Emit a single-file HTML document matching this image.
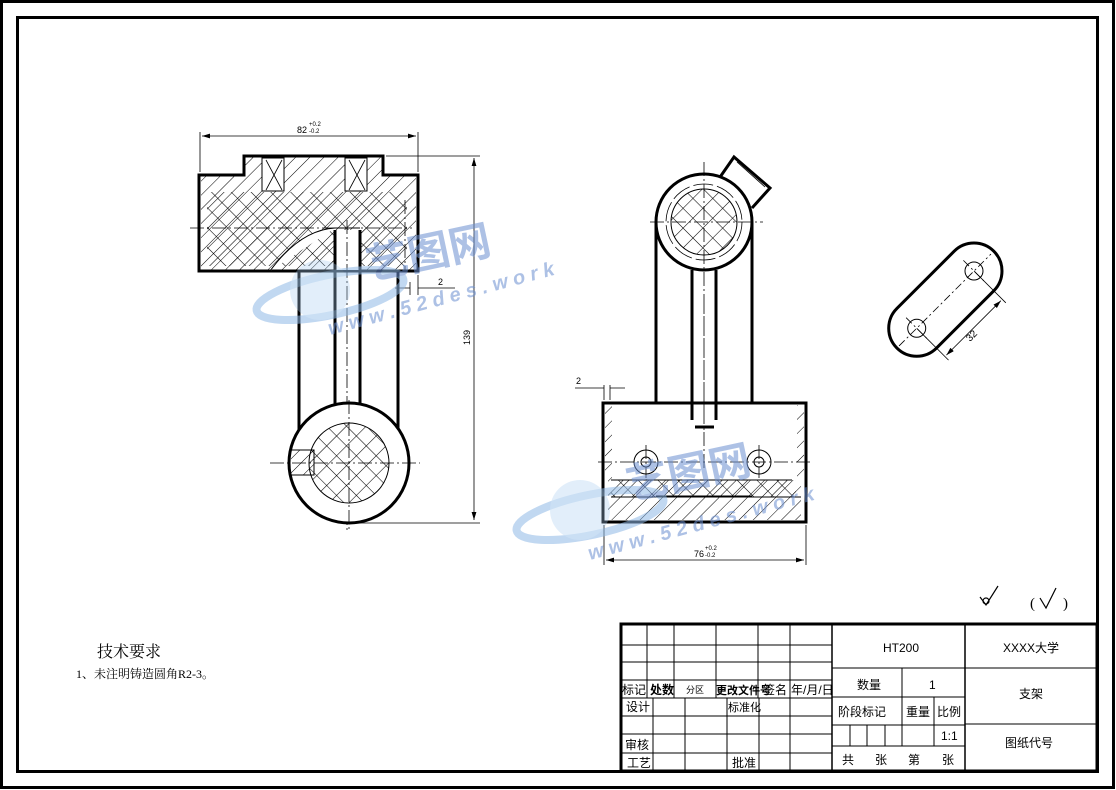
<!DOCTYPE html>
<html><head><meta charset="utf-8"><style>
html,body{margin:0;padding:0;background:#fff}
svg{display:block}
text{font-family:"Liberation Sans","Noto Sans CJK SC",sans-serif}
.s{font-family:"Liberation Serif","Noto Serif CJK SC","Noto Sans CJK SC",serif}
</style></head><body>
<svg width="1116" height="790" viewBox="0 0 1116 790" xmlns="http://www.w3.org/2000/svg">
<defs>
<pattern id="h" width="10" height="10" patternUnits="userSpaceOnUse" patternTransform="rotate(45)"><line x1="0" y1="0" x2="0" y2="10" stroke="#000" stroke-width="1"/></pattern>
<pattern id="x" width="14" height="14" patternUnits="userSpaceOnUse" patternTransform="rotate(45)"><line x1="0" y1="0" x2="0" y2="14" stroke="#000" stroke-width="1.1"/><line x1="0" y1="0" x2="14" y2="0" stroke="#000" stroke-width="1.1"/></pattern>
<marker id="a" markerWidth="10" markerHeight="6" refX="10" refY="3" orient="auto"><path d="M0,0L10,3L0,6z" fill="#000"/></marker>
<marker id="b" markerWidth="10" markerHeight="6" refX="0" refY="3" orient="auto"><path d="M10,0L0,3L10,6z" fill="#000"/></marker>
</defs>
<rect x="1.5" y="1.5" width="1112" height="786" fill="none" stroke="#000" stroke-width="3"/>
<rect x="17.5" y="17.5" width="1080" height="754" fill="none" stroke="#000" stroke-width="3"/>

<!-- LEFT VIEW -->
<g stroke="#000" fill="none">
<rect x="244" y="156" width="139" height="19" fill="url(#h)" stroke="none"/>
<rect x="201" y="175" width="215" height="96" fill="url(#h)" stroke="none"/>
<rect x="207" y="192" width="200" height="74" fill="url(#x)" stroke="none"/>
<path d="M244,156H383V175H418V271H199V175H244Z" stroke-width="3"/>
<rect x="262" y="158" width="22" height="33" fill="#fff" stroke-width="1"/>
<rect x="345" y="158" width="22" height="33" fill="#fff" stroke-width="1"/>
<path d="M266,160l16,30M266,190l16,-30M349,160l16,30M349,190l16,-30" stroke-width="0.8"/>
<path d="M335,228H360M335,228Q300,230 270,271" stroke-width="1" fill="#fff"/>
<rect x="336" y="230" width="24" height="40" fill="#fff" stroke="none"/>
<path d="M299,271V435M398,271V430M335,230V405M360,230V405" stroke-width="3"/>
<path d="M347,220V530M190,228H412M405,200V270" stroke-width="0.8" stroke-dasharray="14,3,2,3"/>
<circle cx="349" cy="463" r="60" fill="#fff" stroke-width="3"/>
<circle cx="349" cy="463" r="40" fill="url(#x)" stroke-width="1"/>
<path d="M291,450H314V475H291" fill="url(#h)" stroke-width="1"/>
<path d="M270,463H420M349,400V530" stroke-width="0.8" stroke-dasharray="14,3,2,3"/>
<path d="M200,172V132M418,172V132M386,156H480M360,523H480M410,282V295M418,275V295" stroke-width="0.8"/>
<line x1="202" y1="136" x2="416" y2="136" stroke-width="0.8" marker-start="url(#b)" marker-end="url(#a)"/>
<line x1="474" y1="158" x2="474" y2="520" stroke-width="0.8" marker-start="url(#b)" marker-end="url(#a)"/>
<path d="M395,288H410M418,288H455" stroke-width="0.8"/>
</g>
<text x="297" y="133" font-size="9">82</text><text x="309" y="126" font-size="6">+0.2</text><text x="309" y="133" font-size="6">-0.2</text>
<text x="438" y="285" font-size="9">2</text>
<text x="470" y="345" font-size="9" transform="rotate(-90 470 345)">139</text>

<!-- MIDDLE VIEW -->
<g stroke="#000" fill="none">
<path d="M718,180L734,157L770,188L752,208" fill="#fff" stroke-width="3"/>
<path d="M737,162L765,187" stroke-width="0.8"/>
<circle cx="704" cy="222" r="48" fill="#fff" stroke-width="3"/>
<circle cx="704" cy="222" r="33" fill="url(#x)" stroke-width="1"/>
<circle cx="704" cy="222" r="38" stroke-width="0.8" stroke-dasharray="20,4"/>
<path d="M656,222V404M752,222V404M692,270V420M716,270V420" stroke-width="3"/>
<path d="M650,222H763M704,162V430M704,300V470" stroke-width="0.8" stroke-dasharray="14,3,2,3"/>
<rect x="608" y="480" width="193" height="40" fill="url(#h)" stroke="none"/>
<rect x="611" y="480" width="185" height="17" fill="url(#x)" stroke="none"/>
<path d="M611,480H792M656,496H752M611,497H801" stroke-width="1"/>
<rect x="603" y="403" width="203" height="119" stroke-width="3"/>
<rect x="605" y="405" width="7" height="75" fill="url(#h)" stroke="none"/>
<rect x="797" y="405" width="7" height="75" fill="url(#h)" stroke="none"/>
<circle cx="646" cy="462" r="12" fill="#fff" stroke-width="1"/><circle cx="646" cy="462" r="5" stroke-width="1"/>
<circle cx="759" cy="462" r="12" fill="#fff" stroke-width="1"/><circle cx="759" cy="462" r="5" stroke-width="1"/>
<path d="M598,462H812M646,445V478M759,445V478" stroke-width="0.8" stroke-dasharray="14,3,2,3"/>
<path d="M695,427H714" stroke-width="3"/>
<path d="M604,525V565M806,525V565M604,385V400M610,385V400M575,388H604M610,388H625" stroke-width="0.8"/>
<line x1="606" y1="560" x2="804" y2="560" stroke-width="0.8" marker-start="url(#b)" marker-end="url(#a)"/>
</g>
<text x="576" y="384" font-size="9">2</text>
<text x="694" y="557" font-size="9">76</text><text x="705" y="550" font-size="6">+0.2</text><text x="705" y="557" font-size="6">-0.2</text>

<!-- RIGHT SLOT -->
<g stroke="#000" fill="none" transform="rotate(-45 945 300)">
<rect x="877" y="272" width="137" height="56" rx="28" stroke-width="3"/>
<circle cx="905" cy="300" r="9" stroke-width="1"/><circle cx="986" cy="300" r="9" stroke-width="1"/>
<path d="M880,300H1010M905,285V315M986,285V315" stroke-width="0.8" stroke-dasharray="8,3,2,3"/>
<path d="M905,300V345M986,300V345" stroke-width="0.8"/>
<line x1="907" y1="340" x2="984" y2="340" stroke-width="0.8" marker-start="url(#b)" marker-end="url(#a)"/>
</g>
<text x="970" y="342" font-size="10" transform="rotate(-45 970 342)">32</text>

<!-- roughness -->
<g stroke="#000" fill="none" stroke-width="1.2">
<path d="M980,597l6,8l12,-19"/><circle cx="986" cy="601" r="3"/>
<path d="M1040,598l6,10l10,-20"/>
</g>
<text x="1030" y="608" font-size="15" class="s">(</text><text x="1063" y="608" font-size="15" class="s">)</text>

<text x="97" y="657" font-size="16" class="s">技术要求</text>
<text x="76" y="678" font-size="12" class="s">1、未注明铸造圆角R2-3。</text>

<!-- title block -->
<g stroke="#000" fill="none" stroke-width="1">
<rect x="621" y="624" width="476" height="147" stroke-width="3"/>
<path d="M832,624V771M965,624V771" stroke-width="1.5"/>
<path d="M621,645H832M621,662H832M621,680H832M621,698H832M621,716H832M621,734H832M621,753H832"/>
<path d="M647,624V698M674,624V698M716,624V698M758,624V698M790,624V698"/>
<path d="M653,698V771M685,698V771M727,698V771M759,698V771M790,698V771"/>
<path d="M832,668H965M832,697H965M832,725H965M832,746H965M902,668V746M934,697V746M850,725V746M867,725V746M885,725V746"/>
<path d="M965,668H1097M965,724H1097"/>
</g>
<g font-size="12" class="s">
<text x="622" y="694">标记</text><text x="650" y="694" font-weight="bold">处数</text><text x="686" y="693" font-size="9">分区</text>
<text x="716" y="694" font-weight="bold" font-size="11">更改文件号</text><text x="763" y="694">签名</text><text x="791" y="694">年/月/日</text>
<text x="626" y="711">设计</text><text x="728" y="711" font-size="11">标准化</text>
<text x="625" y="749">审核</text><text x="627" y="767">工艺</text><text x="732" y="767">批准</text>
<text x="883" y="652">HT200</text><text x="1003" y="652">XXXX大学</text>
<text x="857" y="689">数量</text><text x="929" y="689">1</text><text x="1019" y="698">支架</text>
<text x="838" y="716">阶段标记</text><text x="906" y="716">重量</text><text x="937" y="716">比例</text>
<text x="941" y="740">1:1</text><text x="1005" y="747">图纸代号</text>
<text x="842" y="764">共</text><text x="875" y="764">张</text><text x="908" y="764">第</text><text x="942" y="764">张</text>
</g>

<!-- watermarks -->
<g opacity="0.55">
<ellipse cx="330" cy="295" rx="75" ry="20" fill="none" stroke="#8fb8e6" stroke-width="8" transform="rotate(-12 330 295)"/>
<circle cx="320" cy="290" r="30" fill="#a9cdf0" opacity="0.6"/>
<text x="370" y="280" font-size="42" fill="#6b8fd0" font-weight="bold" transform="rotate(-12 370 280)">艺图网</text>
<text x="330" y="335" font-size="20" fill="#6b8fd0" font-weight="bold" font-style="italic" transform="rotate(-15 330 335)">w w w . 5 2 d e s . w o r k</text>
<ellipse cx="590" cy="515" rx="75" ry="20" fill="none" stroke="#8fb8e6" stroke-width="8" transform="rotate(-12 590 515)"/>
<circle cx="580" cy="510" r="30" fill="#a9cdf0" opacity="0.6"/>
<text x="630" y="500" font-size="42" fill="#6b8fd0" font-weight="bold" transform="rotate(-12 630 500)">艺图网</text>
<text x="590" y="560" font-size="20" fill="#6b8fd0" font-weight="bold" font-style="italic" transform="rotate(-15 590 560)">w w w . 5 2 d e s . w o r k</text>
</g>
</svg>
</body></html>
